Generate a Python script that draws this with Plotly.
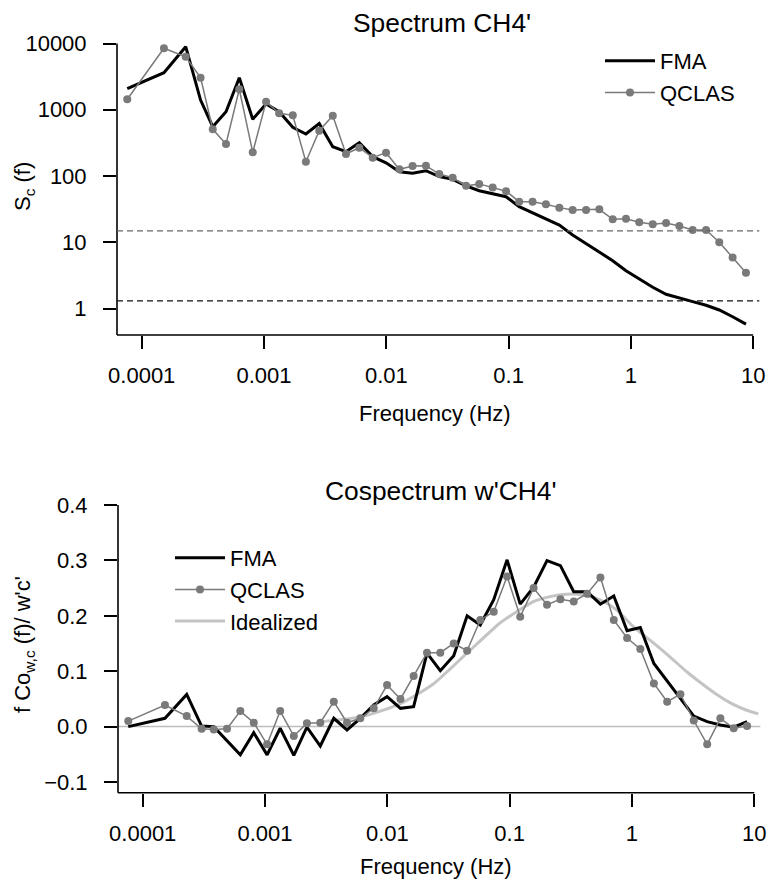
import plotly.graph_objects as go

# ---------------- data ----------------
freq = [7.62e-5, 1.52e-4, 2.29e-4, 3.03e-4, 3.81e-4, 4.89e-4, 6.28e-4, 8.09e-4,
        1.04e-3, 1.33e-3, 1.72e-3, 2.20e-3, 2.83e-3, 3.65e-3, 4.68e-3, 6.01e-3,
        7.74e-3, 9.95e-3, 0.0128, 0.0164, 0.0211, 0.0271, 0.0349, 0.0449,
        0.0575, 0.0741, 0.0953, 0.122, 0.157, 0.202, 0.260, 0.334, 0.430,
        0.552, 0.710, 0.912, 1.17, 1.51, 1.94, 2.49, 3.20, 4.12, 5.28, 6.79, 8.73]

spec_fma = [2080, 3630, 8950, 1400, 555, 933, 3050, 718, 1220, 933, 543, 430, 620,
            277, 233, 318, 196, 158, 116, 110, 120, 98, 89, 71, 60, 53.5, 48.7,
            34.4, 27.9, 23.0, 18.2, 12.9, 9.6, 7.2, 5.27, 3.72, 2.76, 2.09, 1.64,
            1.43, 1.27, 1.12, 0.95, 0.75, 0.58]

spec_qclas = [1440, 8470, 6310, 3050, 507, 304, 2040, 228, 1320, 883, 824, 164, 483,
              813, 215, 267, 189, 225, 126, 142, 143, 107, 94, 71, 76, 67, 59,
              41, 41, 37.4, 33.3, 30.7, 30.7, 31.4, 22.2, 22.7, 20.0, 18.7, 19.5,
              17.6, 15.3, 15.3, 10.0, 5.9, 3.47]

noise_qclas = 14.8
noise_fma = 1.3

cosp_fma = [0.0, 0.015, 0.058, 0.001, 0.0, -0.026, -0.051, -0.011, -0.051, -0.003,
            -0.052, -0.001, -0.035, 0.015, -0.006, 0.015, 0.039, 0.054, 0.033, 0.036,
            0.1325, 0.101, 0.128, 0.200, 0.1835, 0.229, 0.301, 0.221, 0.2515, 0.2995,
            0.2905, 0.2436, 0.2436, 0.221, 0.236, 0.173, 0.179, 0.114, 0.0825, 0.051,
            0.019, 0.009, 0.003, -0.001, 0.009]

cosp_qclas = [0.010, 0.039, 0.019, -0.004, -0.005, -0.004, 0.028, 0.007, -0.032, 0.028,
              -0.017, 0.006, 0.007, 0.045, 0.007, 0.015, 0.033, 0.075, 0.050, 0.0915,
              0.1335, 0.1335, 0.150, 0.137, 0.1925, 0.2075, 0.271, 0.1985, 0.250, 0.220,
              0.230, 0.226, 0.240, 0.269, 0.1925, 0.160, 0.140, 0.078, 0.045, 0.0585,
              0.011, -0.032, 0.015, -0.003, 0.001]

ideal_freq = [0.002868, 0.006172, 0.01269, 0.02374, 0.04453, 0.08339, 0.1142, 0.1561,
              0.2137, 0.2925, 0.3999, 0.5476, 0.7499, 1.025, 1.404, 1.922, 2.802,
              3.599, 4.929, 6.737, 8.554, 10.78]
ideal_cosp = [0.009, 0.018, 0.041, 0.077, 0.132, 0.187, 0.2075, 0.2255, 0.2346, 0.239,
              0.2376, 0.2286, 0.2106, 0.1804, 0.156, 0.131, 0.099, 0.080, 0.058, 0.040,
              0.030, 0.023]

x_tickvals = [1e-4, 1e-3, 1e-2, 1e-1, 1, 10]
x_ticktext = ["0.0001", "0.001", "0.01", "0.1", "1", "10"]
y1_tickvals = [1, 10, 100, 1000, 10000]
y1_ticktext = ["1", "10", "100", "1000", "10000"]
y2_tickvals = [-0.1, 0.0, 0.1, 0.2, 0.3, 0.4]
y2_ticktext = ["\u22120.1", "0.0", "0.1", "0.2", "0.3", "0.4"]

# ---------------- styling ----------------
FONT = "Liberation Sans, Arial, Helvetica, sans-serif"
W, H = 769, 886
FS = 22
GRAY_PT = "#7a7a7a"
IDEAL = "#c4c4c4"

X_LOG_RANGE = [-4.202, 1.05]
Y1_LOG_RANGE = [-0.40, 4.0]
Y2_RANGE = [-0.1193, 0.4]

fig = go.Figure()

# top panel
fig.add_trace(go.Scatter(x=freq, y=spec_fma, mode="lines", name="FMA",
                         line=dict(color="black", width=3),
                         xaxis="x", yaxis="y", legend="legend", legendrank=1))
fig.add_trace(go.Scatter(x=freq, y=spec_qclas, mode="lines+markers", name="QCLAS",
                         line=dict(color=GRAY_PT, width=1.5),
                         marker=dict(size=8, color=GRAY_PT),
                         xaxis="x", yaxis="y", legend="legend", legendrank=2))

# bottom panel
fig.add_trace(go.Scatter(x=ideal_freq, y=ideal_cosp, mode="lines", name="Idealized",
                         line=dict(color=IDEAL, width=3, shape="spline", smoothing=0.6),
                         xaxis="x2", yaxis="y2", legend="legend2", legendrank=3))
fig.add_trace(go.Scatter(x=freq, y=cosp_fma, mode="lines", name="FMA",
                         line=dict(color="black", width=3),
                         xaxis="x2", yaxis="y2", legend="legend2", legendrank=1))
fig.add_trace(go.Scatter(x=freq, y=cosp_qclas, mode="lines+markers", name="QCLAS",
                         line=dict(color=GRAY_PT, width=1.5),
                         marker=dict(size=8, color=GRAY_PT),
                         xaxis="x2", yaxis="y2", legend="legend2", legendrank=2))

axis_common = dict(showgrid=False, zeroline=False, showline=False, automargin=False,
                   ticks="outside", ticklen=13, tickwidth=1.6, tickcolor="black",
                   tickfont=dict(family=FONT, size=FS, color="black"))

fig.update_layout(
    template="none",
    width=W, height=H,
    margin=dict(l=0, r=0, t=0, b=0, pad=0, autoexpand=False),
    paper_bgcolor="white", plot_bgcolor="white",
    font=dict(family=FONT, size=FS, color="black"),
    xaxis=dict(type="log", range=X_LOG_RANGE, domain=[117 / W, 759.3 / W], anchor="y",
               tickvals=x_tickvals, ticktext=x_ticktext, ticklabelstandoff=8, **axis_common),
    yaxis=dict(type="log", range=Y1_LOG_RANGE, domain=[1 - 335 / H, 1 - 43.5 / H], anchor="x",
               tickvals=y1_tickvals, ticktext=y1_ticktext, ticklabelstandoff=12, **axis_common),
    xaxis2=dict(type="log", range=X_LOG_RANGE, domain=[118 / W, 760.4 / W], anchor="y2",
                tickvals=x_tickvals, ticktext=x_ticktext, ticklabelstandoff=8, **axis_common),
    yaxis2=dict(range=Y2_RANGE, domain=[1 - 792.7 / H, 1 - 505 / H], anchor="x2",
                tickvals=y2_tickvals, ticktext=y2_ticktext, ticklabelstandoff=12, **axis_common),
    showlegend=True,
    legend=dict(x=600 / W, y=1 - 40 / H, xanchor="left", yanchor="top", itemwidth=50,
                bgcolor="rgba(0,0,0,0)", font=dict(family=FONT, size=FS),
                traceorder="normal"),
    legend2=dict(x=170 / W, y=1 - 537 / H, xanchor="left", yanchor="top", itemwidth=50,
                 bgcolor="rgba(0,0,0,0)", font=dict(family=FONT, size=FS),
                 traceorder="normal"),
)

# axis lines (L-shaped, R style)
x_end_frac = (1.0 - X_LOG_RANGE[0]) / (X_LOG_RANGE[1] - X_LOG_RANGE[0])
shapes = []
for xa, ya in (("x", "y"), ("x2", "y2")):
    shapes.append(dict(type="line", xref=f"{xa} domain", yref=f"{ya} domain",
                       x0=0, x1=0, y0=0, y1=1, line=dict(color="black", width=1.6)))
    shapes.append(dict(type="line", xref=f"{xa} domain", yref=f"{ya} domain",
                       x0=0, x1=x_end_frac, y0=0, y1=0, line=dict(color="black", width=1.6)))
# noise-level dashed lines (top)
shapes.append(dict(type="line", xref="x domain", yref="y", x0=0, x1=1,
                   y0=noise_qclas, y1=noise_qclas,
                   line=dict(color="#666666", width=1.2, dash="6px,4px")))
shapes.append(dict(type="line", xref="x domain", yref="y", x0=0, x1=1,
                   y0=noise_fma, y1=noise_fma,
                   line=dict(color="#111111", width=1.2, dash="6px,4px")))
# zero line (bottom)
shapes.append(dict(type="line", xref="x2 domain", yref="y2", x0=0, x1=1, y0=0, y1=0,
                   layer="below", line=dict(color="#bdbdbd", width=1.5)))
fig.update_layout(shapes=shapes)

ann = []
def text(s, x, y, size=FS, angle=0):
    ann.append(dict(text=s, x=x / W, y=1 - y / H, xref="paper", yref="paper",
                    xanchor="center", yanchor="middle", showarrow=False, textangle=angle,
                    font=dict(family=FONT, size=size, color="black")))

text("Spectrum CH4'", 442, 23, size=26.4)
text("Cospectrum w'CH4'", 441, 491, size=26.4)
text("Frequency (Hz)", 435, 413)
text("Frequency (Hz)", 436, 866)
text("S<sub>c</sub> (f)", 24, 187, angle=-90)
text("f Co<sub>w,c</sub> (f)/ w'c'", 24, 645, angle=-90)
fig.update_layout(annotations=ann)

fig.write_html("out.html")
